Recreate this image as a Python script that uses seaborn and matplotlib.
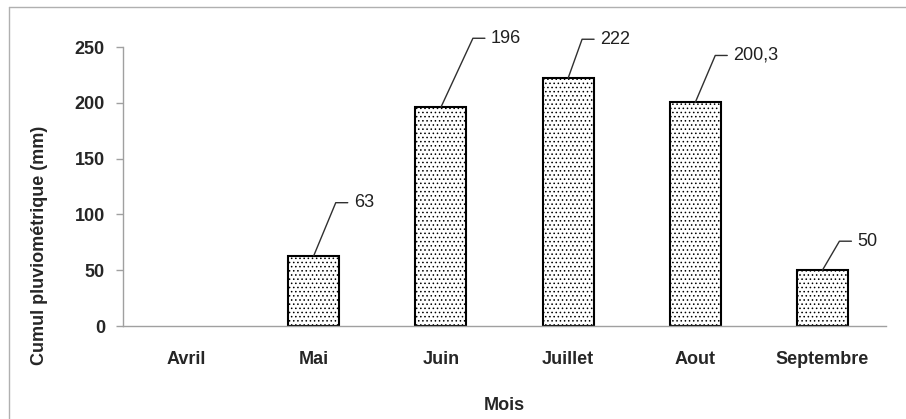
import math
import matplotlib
matplotlib.use("Agg")
import matplotlib.pyplot as plt
import seaborn as sns
import pandas as pd
from matplotlib.lines import Line2D

# data
months = ["Avril", "Mai", "Juin", "Juillet", "Aout", "Septembre"]
rainfall = [0, 63, 196, 222, 200.3, 50]
value_labels = ["", "63", "196", "222", "200,3", "50"]

# leader line elbows (pixels from bar top), as placed in the original
label_offsets = [None, (22, 53), (32, 69), (14, 39), (20, 47), (17, 29)]

sns.set_theme(style="white")
plt.rcParams["font.family"] = ["Liberation Sans", "DejaVu Sans"]
plt.rcParams["hatch.linewidth"] = 0.6

df = pd.DataFrame({"Mois": months, "Cumul": rainfall})

fig = plt.figure(figsize=(9.06, 4.19), dpi=100)
ax = fig.add_axes([123 / 906, 1 - 326 / 419, 763 / 906, 279 / 419])

sns.barplot(data=df, x="Mois", y="Cumul", color="white", width=0.4,
            edgecolor="black", linewidth=1.5, hatch="....", ax=ax)
for p in ax.patches:
    if p.get_height() == 0:
        p.set_visible(False)

ax.set_ylim(0, 250)
ax.set_xlim(-0.5, len(months) - 0.5)
yticks = [0, 50, 100, 150, 200, 250]
ax.set_yticks(yticks)
ax.set_yticklabels([str(v) for v in yticks], fontsize=13, fontweight="bold")
ax.set_xticks(range(len(months)))
ax.set_xticklabels(months, fontsize=13, fontweight="bold")
ax.set_xticks([i - 0.5 for i in range(len(months) + 1)], minor=True)
ax.tick_params(axis="x", which="major", length=0, pad=18)
ax.tick_params(axis="x", which="minor", length=5, color="#a0a0a0", width=1, direction="out")
ax.tick_params(axis="y", length=5, color="#a0a0a0", width=1, direction="out", pad=8, left=True)

for side in ["top", "right"]:
    ax.spines[side].set_visible(False)
for side in ["left", "bottom"]:
    ax.spines[side].set_color("#a0a0a0")
    ax.spines[side].set_linewidth(1)

ax.set_xlabel("Mois", fontsize=13, fontweight="bold")
ax.xaxis.set_label_coords(0.5, -0.255)
ax.set_ylabel("Cumul pluviométrique (mm)", fontsize=13, fontweight="bold")
ax.yaxis.set_label_coords(-0.098, 0.29)

# data labels with leader lines (diagonal then short horizontal)
for i, (val, lab, off) in enumerate(zip(rainfall, value_labels, label_offsets)):
    if off is None:
        continue
    dx, dy = off
    ang = math.degrees(math.atan2(dy, dx))
    ax.annotate("", xy=(i, val), xytext=(dx + 12, dy), textcoords="offset pixels",
                arrowprops=dict(arrowstyle="-", color="#303030", lw=1,
                                shrinkA=0, shrinkB=0,
                                connectionstyle=f"angle,angleA=0,angleB={ang},rad=0"))
    ax.annotate(lab, xy=(i, val), xytext=(dx + 18, dy), textcoords="offset pixels",
                fontsize=13, va="center", ha="left", color="#202020")

# outer frame of the chart
frame = dict(color="#b0b0b0", linewidth=1, transform=fig.transFigure)
fig.add_artist(Line2D([8.5 / 906, 8.5 / 906], [0, 1 - 7.5 / 419], **frame))
fig.add_artist(Line2D([8.5 / 906, 1], [1 - 7.5 / 419, 1 - 7.5 / 419], **frame))

fig.savefig("out.png", dpi=100)
